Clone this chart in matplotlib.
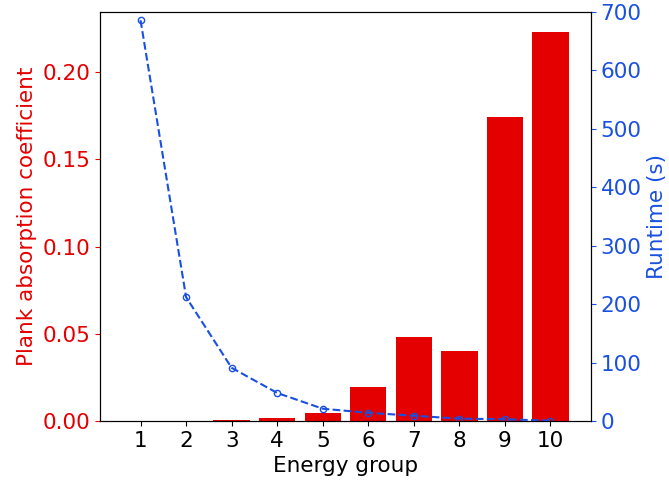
import matplotlib
matplotlib.use("Agg")
import matplotlib.pyplot as plt

groups = [1, 2, 3, 4, 5, 6, 7, 8, 9, 10]
absorption = [0.0001, 0.0002, 0.0006, 0.0017, 0.0046, 0.0195, 0.0481, 0.0401, 0.1742, 0.2232]
runtime = [686, 212, 91, 48, 21, 14, 9, 4, 3, 0.5]

red = '#e50000'
blue = '#1a50e0'

plt.rcParams['font.size'] = 15.5

fig, ax1 = plt.subplots(figsize=(6.69, 4.83), dpi=100)
fig.subplots_adjust(left=0.1495, right=0.8834, top=0.975, bottom=0.1284)
ax1.bar(groups, absorption, width=0.8, color=red)
ax1.set_xticks(groups)
ax1.set_xlabel('Energy group')
ax1.set_ylabel('Plank absorption coefficient', color=red)
ax1.tick_params(axis='y', colors=red)

ax2 = ax1.twinx()
ax2.plot(groups, runtime, '--o', color=blue, fillstyle='none', markersize=4.5, linewidth=1.5)
ax2.set_ylim(0, 700)
ax2.set_ylabel('Runtime (s)', color=blue)
ax2.tick_params(axis='y', colors=blue)

plt.savefig('out.png')
